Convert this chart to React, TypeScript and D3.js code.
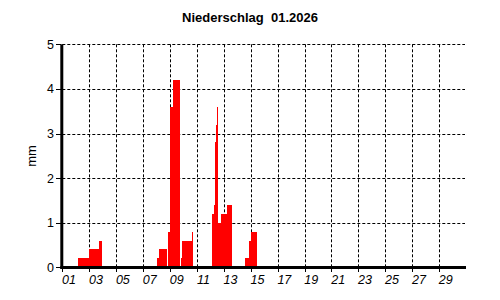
import React from "react";
import * as d3 from "d3";

// Precipitation, step series: hour since 01.01.2026 00:00 -> value (mm) from that hour on
const hours = [0, 28, 48, 66, 71, 169, 172, 186, 189, 192, 197, 210, 211.5, 214, 232, 233.5, 267.5, 270.5, 273, 275, 276.3, 278, 283, 294, 302, 326, 333.5, 336, 348, 720];
const values = [0, 0.2, 0.4, 0.6, 0, 0.2, 0.4, 0, 0.8, 3.6, 4.2, 0, 0.2, 0.6, 0.8, 0, 1.2, 1.4, 2.8, 3.2, 3.6, 1.0, 1.2, 1.4, 0, 0.2, 0.6, 0.8, 0, 0];
const dayLabels = ["01", "03", "05", "07", "09", "11", "13", "15", "17", "19", "21", "23", "25", "27", "29"];
const yTicks = [0, 1, 2, 3, 4, 5];
const title = "Niederschlag  01.2026";
const yLabel = "mm";

export default function App() {
  const W = 500, H = 300;
  const x = d3.scaleLinear().domain([0, 720]).range([62.3, 466]);
  const y = d3.scaleLinear().domain([0, 5]).range([267.3, 44.3]);
  const pts = hours.map((h, i) => ({ h, v: values[i] }));
  const area = d3
    .area<{ h: number; v: number }>()
    .x((d) => x(d.h))
    .y0(y(0))
    .y1((d) => y(d.v))
    .curve(d3.curveStepAfter);
  const font = "'Liberation Sans', Arial, sans-serif";
  const tickHours = dayLabels.map((l) => (parseInt(l, 10) - 1) * 24);
  return (
    <svg width={W} height={H} style={{ position: "absolute", left: 0, top: 0, background: "#fff" }} fontFamily={font}>
      <rect x={0} y={0} width={W} height={H} fill="#fff" />
      <text x={250} y={22} textAnchor="middle" fontWeight="bold" fontSize={13} style={{ whiteSpace: "pre" }}>
        {title}
      </text>
      {/* grid */}
      {yTicks.filter((t) => t > 0).map((t) => (
        <line key={"hg" + t} x1={x(0)} x2={465} y1={Math.round(y(t)) + 0.5} y2={Math.round(y(t)) + 0.5} stroke="#000" strokeWidth={1} strokeDasharray="3,2" />
      ))}
      {tickHours.filter((h) => h > 0).map((h) => (
        <line key={"vg" + h} x1={Math.round(x(h)) + 0.5} x2={Math.round(x(h)) + 0.5} y1={y(5)} y2={y(0)} stroke="#000" strokeWidth={1} strokeDasharray="3,2" />
      ))}
      {/* data */}
      <path d={area(pts) || ""} fill="#ff0000" stroke="none" shapeRendering="crispEdges" />
      {/* axes */}
      <line x1={x(0) - 0.5} x2={x(0) - 0.5} y1={y(5)} y2={y(0) + 1.5} stroke="#000" strokeWidth={3} />
      <line x1={x(0) - 2} x2={466} y1={y(0) + 0.2} y2={y(0) + 0.2} stroke="#000" strokeWidth={3} />
      {yTicks.map((t) => (
        <g key={"yt" + t}>
          <line x1={56} x2={61} y1={Math.round(y(t)) + 0.5} y2={Math.round(y(t)) + 0.5} stroke="#000" strokeWidth={1} />
          <text x={54} y={y(t) + 4.5} textAnchor="end" fontSize={12.5}>
            {t}
          </text>
        </g>
      ))}
      {tickHours.map((h, i) => (
        <g key={"xt" + h}>
          <line x1={Math.round(x(h)) + 0.5} x2={Math.round(x(h)) + 0.5} y1={268} y2={272} stroke="#000" strokeWidth={1} />
          <text x={x(h + 12)} y={283.5} textAnchor="middle" fontSize={12.5} fontStyle="italic">
            {dayLabels[i]}
          </text>
        </g>
      ))}
      <text transform={`translate(36,156) rotate(-90)`} textAnchor="middle" fontSize={13}>
        {yLabel}
      </text>
    </svg>
  );
}
